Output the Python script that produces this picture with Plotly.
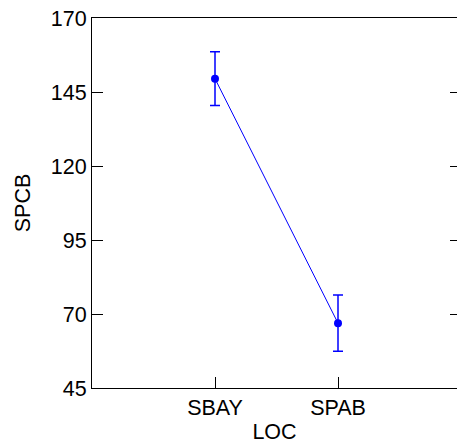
import plotly.graph_objects as go

categories = ["SBAY", "SPAB"]
means = [149.5, 66.9]
errors = [9.1, 9.5]
y_ticks = [45, 70, 95, 120, 145, 170]

xpos = [1, 2]

fig = go.Figure()
fig.add_trace(go.Scatter(
    x=xpos, y=means, mode="lines+markers",
    line=dict(color="#0000ff", width=1),
    marker=dict(color="#0000ff", size=8),
    error_y=dict(type="data", array=errors, visible=True, color="#0000ff",
                 thickness=1.5, width=5),
    showlegend=False,
))
# invisible trace to carry a right-side mirrored tick axis
fig.add_trace(go.Scatter(x=[None], y=[None], yaxis="y2", showlegend=False))

fam = "Arial, Liberation Sans, sans-serif"
fnt = dict(family=fam, size=21.5, color="black")
fig.update_layout(
    width=457, height=444,
    margin=dict(l=92, r=0, t=18, b=56),
    paper_bgcolor="white", plot_bgcolor="white",
    font=fnt,
    xaxis=dict(
        range=[0, 3 * 365 / 369],
        tickmode="array", tickvals=xpos, ticktext=categories,
        tickfont=fnt,
        ticks="inside", ticklen=11, tickcolor="black", tickwidth=1,
        showline=True, linecolor="black", linewidth=1, mirror=True,
        showgrid=False, zeroline=False,
        title=dict(text="LOC", standoff=6, font=fnt),
    ),
    yaxis=dict(
        range=[45, 170],
        tickmode="array", tickvals=y_ticks,
        tickfont=fnt,
        ticks="inside", ticklen=11, tickcolor="black", tickwidth=1,
        showline=True, linecolor="black", linewidth=1,
        showgrid=False, zeroline=False,
        title=dict(text="SPCB", standoff=14, font=fnt),
    ),
    yaxis2=dict(
        overlaying="y", side="right", matches="y", range=[45, 170],
        tickmode="array", tickvals=y_ticks, showticklabels=False,
        ticks="inside", ticklen=7, tickcolor="black", tickwidth=1,
        showline=False, showgrid=False, zeroline=False,
    ),
)

fig.write_html("out.html")
